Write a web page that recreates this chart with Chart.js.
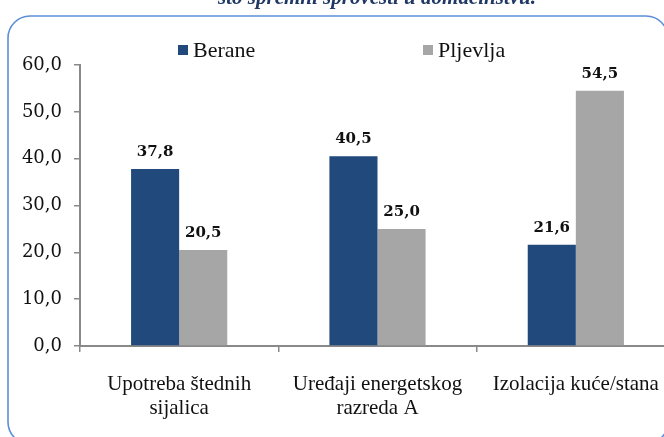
<!DOCTYPE html>
<html>
<head>
    <meta charset="utf-8">
    <title>Mjere u domaćinstvu</title>
    <script src="https://cdn.jsdelivr.net/npm/chart.js"></script>
    <style>
        html, body {
            margin: 0;
            padding: 0;
            background-color: #ffffff;
            overflow: hidden;
        }
        #wrap {
            position: absolute;
            left: 0;
            top: 0;
        }
    </style>
</head>
<body>
    <div id="wrap">
        <canvas id="chart" width="700" height="437"></canvas>
    </div>
    <script>
        const categories = [
            ['Upotreba štednih', 'sijalica'],
            ['Uređaji energetskog', 'razreda A'],
            ['Izolacija kuće/stana']
        ];
        const berane = [37.8, 40.5, 21.6];
        const pljevlja = [20.5, 25.0, 54.5];
        const seriesNames = ['Berane', 'Pljevlja'];
        const titleText = 'što spremni sprovesti u domaćinstvu.';

        const fmt = v => v.toFixed(1).replace('.', ',');

        // rounded frame and the title line above it
        const framePlugin = {
            id: 'frame',
            beforeDraw(chart) {
                const ctx = chart.ctx;
                ctx.save();
                ctx.fillStyle = '#ffffff';
                ctx.fillRect(0, 0, chart.width, chart.height);
                ctx.beginPath();
                ctx.roundRect(8, 16, 660, 428, 22);
                ctx.strokeStyle = '#5b8fd8';
                ctx.lineWidth = 1.6;
                ctx.stroke();

                ctx.font = 'bold italic 21px "Liberation Serif"';
                ctx.fillStyle = '#1f3864';
                ctx.textAlign = 'center';
                ctx.textBaseline = 'alphabetic';
                ctx.fillText(titleText, 377, 4);
                ctx.restore();
            }
        };

        // legend drawn by hand so the two entries sit far apart
        const legendPlugin = {
            id: 'spreadLegend',
            afterDraw(chart) {
                const ctx = chart.ctx;
                const xs = [178, 423];
                ctx.save();
                ctx.font = '22px "Liberation Serif"';
                ctx.textBaseline = 'alphabetic';
                ctx.textAlign = 'left';
                chart.data.datasets.forEach((ds, i) => {
                    ctx.fillStyle = ds.backgroundColor;
                    ctx.fillRect(xs[i], 45, 10, 10);
                    ctx.fillStyle = '#111111';
                    ctx.fillText(ds.label, xs[i] + 15, 57);
                });
                ctx.restore();
            }
        };

        // value above each bar
        const valuePlugin = {
            id: 'barValues',
            afterDatasetsDraw(chart) {
                const ctx = chart.ctx;
                ctx.save();
                ctx.font = 'bold 15px "DejaVu Serif"';
                ctx.fillStyle = '#111111';
                ctx.textAlign = 'center';
                ctx.textBaseline = 'alphabetic';
                chart.data.datasets.forEach((ds, i) => {
                    chart.getDatasetMeta(i).data.forEach((bar, j) => {
                        ctx.fillText(fmt(ds.data[j]), bar.x, bar.y - 13);
                    });
                });
                ctx.restore();
            }
        };

        new Chart(document.getElementById('chart'), {
            type: 'bar',
            data: {
                labels: categories,
                datasets: [
                    {
                        label: seriesNames[0],
                        data: berane,
                        backgroundColor: '#21497c'
                    },
                    {
                        label: seriesNames[1],
                        data: pljevlja,
                        backgroundColor: '#a6a6a6'
                    }
                ]
            },
            options: {
                responsive: false,
                animation: false,
                layout: {
                    padding: { top: 65, right: 25, left: 0, bottom: 0 }
                },
                datasets: {
                    bar: {
                        categoryPercentage: 0.485,
                        barPercentage: 1.0
                    }
                },
                plugins: {
                    legend: { display: false },
                    tooltip: { enabled: false }
                },
                scales: {
                    x: {
                        afterFit: s => { s.height = 91; },
                        grid: {
                            offset: true,
                            drawOnChartArea: false,
                            tickLength: 6,
                            color: '#898989',
                            lineWidth: 1.5
                        },
                        border: { color: '#898989', width: 2 },
                        ticks: {
                            color: '#111111',
                            padding: 20,
                            maxRotation: 0,
                            autoSkip: false,
                            font: { family: 'Liberation Serif', size: 21, lineHeight: 1.15 }
                        }
                    },
                    y: {
                        min: 0,
                        max: 60,
                        afterFit: s => { s.width = 80; },
                        grid: {
                            drawOnChartArea: false,
                            tickLength: 6,
                            color: '#898989',
                            lineWidth: 1.5
                        },
                        border: { color: '#898989', width: 2 },
                        ticks: {
                            stepSize: 10,
                            color: '#111111',
                            padding: 12,
                            font: { family: 'DejaVu Serif', size: 18 },
                            callback: v => fmt(v)
                        }
                    }
                }
            },
            plugins: [framePlugin, legendPlugin, valuePlugin]
        });
    </script>
</body>
</html>
